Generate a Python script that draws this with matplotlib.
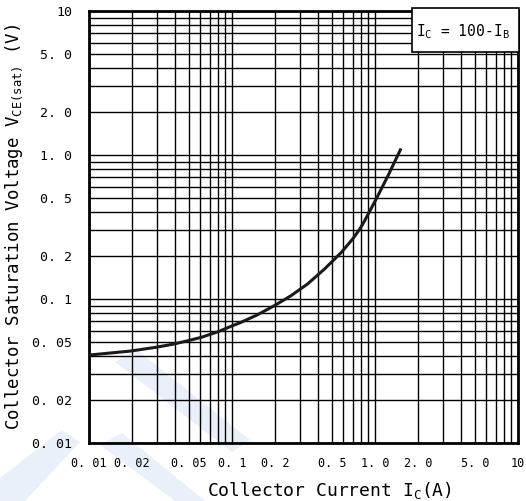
import matplotlib
matplotlib.use("Agg")
import matplotlib.pyplot as plt
from matplotlib.patches import Rectangle, Polygon
from matplotlib.ticker import FixedLocator, LogLocator, NullFormatter

plt.rcParams['font.family'] = ['DejaVu Sans Mono']
plt.rcParams['mathtext.fontset'] = 'custom'
plt.rcParams['mathtext.rm'] = 'DejaVu Sans Mono'

# Data
ic = [0.01, 0.0195, 0.0294, 0.0385, 0.0491, 0.0611, 0.080, 0.0995, 0.1139,
      0.1495, 0.1958, 0.257, 0.337, 0.442, 0.58, 0.70, 0.781, 0.847, 1.025, 1.24, 1.52]
vce = [0.0408, 0.0435, 0.0462, 0.0485, 0.0513, 0.0542, 0.0593, 0.0649, 0.0684,
       0.0774, 0.0894, 0.105, 0.127, 0.161, 0.210, 0.262, 0.305, 0.35, 0.50, 0.726, 1.11]

x_ticks = [0.01, 0.02, 0.05, 0.1, 0.2, 0.5, 1.0, 2.0, 5.0, 10]
x_labels = ["0. 01", "0. 02", "0. 05", "0. 1", "0. 2", "0. 5", "1. 0", "2. 0", "5. 0", "10"]
y_ticks = [0.01, 0.02, 0.05, 0.1, 0.2, 0.5, 1.0, 2.0, 5.0, 10]
y_labels = ["0. 01", "0. 02", "0. 05", "0. 1", "0. 2", "0. 5", "1. 0", "2. 0", "5. 0", "10"]

fig = plt.figure(figsize=(5.26, 5.01), dpi=100)

# faint watermark strokes
wm = "#eaf0f9"
def px(pts):
    return [[x / 526, 1 - y / 501] for x, y in pts]
for pts in ([(115, 362), (137, 350), (250, 440), (232, 452)],
            [(0, 478), (62, 430), (80, 442), (25, 501), (0, 501)],
            [(100, 445), (122, 433), (205, 501), (175, 501)]):
    fig.patches.append(Polygon(px(pts), closed=True, transform=fig.transFigure,
                               facecolor=wm, edgecolor='none', zorder=-5))

ax = fig.add_axes([89/526, 1-443/501, 429/526, 432/501])
ax.patch.set_alpha(0)
ax.set_xscale('log')
ax.set_yscale('log')
ax.set_xlim(0.01, 10)
ax.set_ylim(0.01, 10)

ax.xaxis.set_major_locator(FixedLocator(x_ticks))
ax.set_xticklabels(x_labels)
ax.yaxis.set_major_locator(FixedLocator(y_ticks))
ax.set_yticklabels(y_labels)
ax.xaxis.set_minor_locator(LogLocator(base=10, subs=range(1, 10), numticks=20))
ax.yaxis.set_minor_locator(LogLocator(base=10, subs=range(1, 10), numticks=20))
ax.xaxis.set_minor_formatter(NullFormatter())
ax.yaxis.set_minor_formatter(NullFormatter())
ax.grid(True, which='both', color='black', linewidth=1.0)
ax.tick_params(which='both', length=0)
ax.tick_params(axis='x', pad=10, labelsize=8.5)
ax.tick_params(axis='y', pad=12, labelsize=9.5)
for s in ax.spines.values():
    s.set_linewidth(2.0)

ax.plot(ic, vce, color='#1a1a1a', linewidth=2.2, zorder=5,
        solid_joinstyle='round', solid_capstyle='butt')

# legend box
ax.add_patch(Rectangle((0.753, 0.906), 0.25, 0.1, transform=ax.transAxes,
                       facecolor='white', edgecolor='black', linewidth=1.2, zorder=6, clip_on=False))
ax.text(0.762, 0.953, r"I$_\mathregular{C}$ = 100-I$_\mathregular{B}$", transform=ax.transAxes,
        fontsize=10.5, va='center', ha='left', zorder=7)

ax.set_xlabel(r"Collector Current I$_\mathregular{C}$(A)", fontsize=13)
ax.xaxis.set_label_coords(0.56, -0.085)
ax.set_ylabel(r"Collector Saturation Voltage V$_\mathregular{CE(sat)}$ (V)", fontsize=12.5)
ax.yaxis.set_label_coords(-0.15, 0.5)

fig.savefig("out.png", dpi=100)
